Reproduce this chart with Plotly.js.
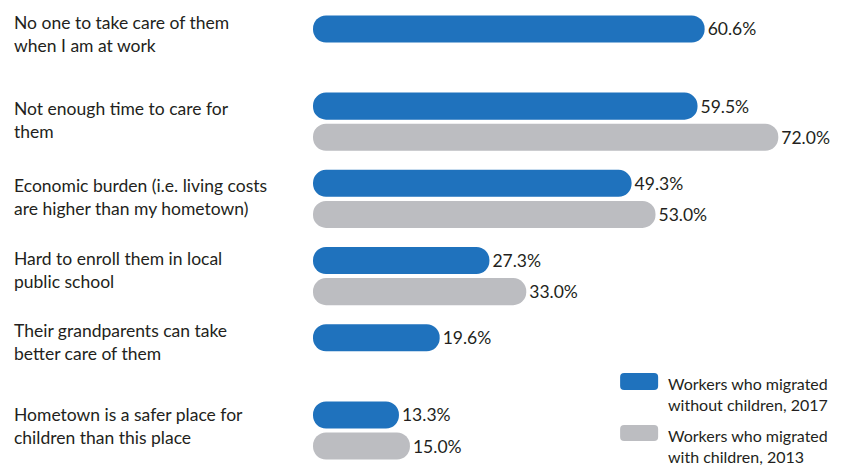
<!DOCTYPE html>
<html>
<head>
<meta charset="utf-8">
<script src="https://cdn.plot.ly/plotly-3.0.1.min.js"></script>
<style>html,body{margin:0;padding:0;background:#fff;}#chart{width:851px;height:465px;}</style>
</head>
<body>
<div id="chart"></div>
<script>
// ---- data ----
const categories = [
  "No one to take care of them<br>when I am at work",
  "Not enough time to care for<br>them",
  "Economic burden (i.e. living costs<br>are higher than my hometown)",
  "Hard to enroll them in local<br>public school",
  "Their grandparents can take<br>better care of them",
  "Hometown is a safer place for<br>children than this place"
];
const series2017 = [60.6, 59.5, 49.3, 27.3, 19.6, 13.3];
const series2013 = [null, 72.0, 53.0, 33.0, null, 15.0];
const seriesNames = ["Workers who migrated<br>without children, 2017", "Workers who migrated<br>with children, 2013"];

// ---- style / layout ----
const W = 851, H = 465, L = 313, RM = 21.2;
const plotW = W - L - RM;
const blue = "#1f72bd", gray = "#bcbdc1", ink = "#231f20";
const FONT = "Lato, 'Open Sans', sans-serif";
const labelShift = [10.5, 1.5, 1.5, 6, 11, 4.5]; // px upward from category centre

function fmt(arr){ return arr.map(v => v == null ? "" : v.toFixed(1) + "%"); }

function barTrace(vals, color, group){
  return {type:"bar", orientation:"h", y:categories, x:vals, base:0, offsetgroup:group,
    marker:{color:color, cornerradius:"50%", line:{width:0}}, hoverinfo:"skip", showlegend:false,
    text: fmt(vals), textposition:"outside", texttemplate:"%{text}",
    textfont:{family:FONT, size:17.5, color:ink}, cliponaxis:false, constraintext:"none"};
}

const data = [barTrace(series2017, blue, "a"), barTrace(series2013, gray, "b")];

const px2x = px => (px - L) / plotW;
const py2y = py => 1 - py / H;
function roundRect(x0, y0, x1, y1, r){
  const X = px2x, Y = py2y;
  return `M${X(x0+r)},${Y(y0)} L${X(x1-r)},${Y(y0)} Q${X(x1)},${Y(y0)} ${X(x1)},${Y(y0+r)} ` +
         `L${X(x1)},${Y(y1-r)} Q${X(x1)},${Y(y1)} ${X(x1-r)},${Y(y1)} L${X(x0+r)},${Y(y1)} ` +
         `Q${X(x0)},${Y(y1)} ${X(x0)},${Y(y1-r)} L${X(x0)},${Y(y0+r)} Q${X(x0)},${Y(y0)} ${X(x0+r)},${Y(y0)} Z`;
}

const annotations = categories.map((c, i) => ({
  xref:"paper", yref:"y", x: px2x(12), y: c, xanchor:"left", yanchor:"middle", align:"left",
  text: c, showarrow:false, yshift: labelShift[i], font:{family:FONT, size:17.5, color:ink}
}));
annotations.push({xref:"paper", yref:"paper", x:px2x(666), y:py2y(393.5), xanchor:"left", yanchor:"middle",
  align:"left", text: seriesNames[0], showarrow:false, font:{family:FONT, size:16, color:ink}});
annotations.push({xref:"paper", yref:"paper", x:px2x(666), y:py2y(446), xanchor:"left", yanchor:"middle",
  align:"left", text: seriesNames[1], showarrow:false, font:{family:FONT, size:16, color:ink}});

const shapes = [
  {type:"path", xref:"paper", yref:"paper", path: roundRect(620, 373, 658, 390, 4), fillcolor: blue, line:{width:0}},
  {type:"path", xref:"paper", yref:"paper", path: roundRect(620, 425, 658, 441, 4), fillcolor: gray, line:{width:0}}
];

const layout = {
  width: W, height: H,
  margin: {l: L, r: RM, t: 0, b: 0, pad: 0},
  paper_bgcolor: "#fff", plot_bgcolor: "#fff",
  barmode: "group", bargap: 0.195, bargroupgap: 0.13,
  showlegend: false, hovermode: false,
  font: {family: FONT, color: ink},
  xaxis: {range: [0, 80], visible: false, fixedrange: true},
  yaxis: {type: "category", categoryorder:"array", categoryarray: categories,
          range: [5.447, -0.576], autorange: false, showticklabels: false,
          showgrid: false, zeroline: false, showline: false, ticks: "", fixedrange: true},
  annotations: annotations,
  shapes: shapes
};

Plotly.newPlot("chart", data, layout, {displayModeBar: false, staticPlot: true});
</script>
</body>
</html>
